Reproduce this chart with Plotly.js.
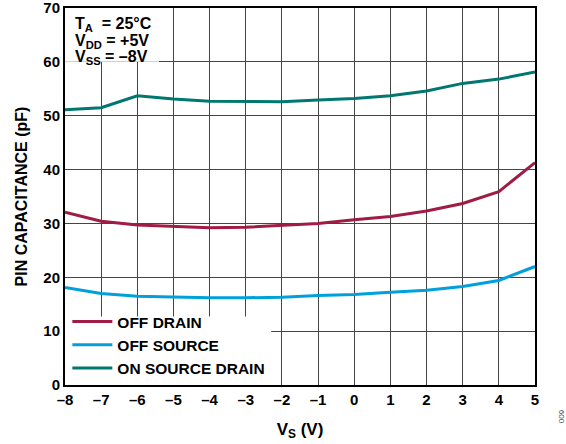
<!DOCTYPE html>
<html>
<head>
<meta charset="utf-8">
<script src="https://cdn.plot.ly/plotly-3.0.1.min.js"></script>
<style>html,body{margin:0;padding:0;background:#fff;}#chart{width:566px;height:444px;}</style>
</head>
<body>
<div id="chart"></div>
<script>
const vs = [-8, -7, -6, -5, -4, -3, -2, -1, 0, 1, 2, 3, 4, 5];
const offDrain = [32.1, 30.4, 29.7, 29.4, 29.2, 29.3, 29.6, 30.0, 30.7, 31.3, 32.3, 33.7, 35.9, 41.3];
const offSource = [18.1, 17.0, 16.5, 16.3, 16.2, 16.2, 16.3, 16.6, 16.8, 17.2, 17.6, 18.3, 19.4, 22.0];
const onSourceDrain = [51.1, 51.5, 53.7, 53.1, 52.7, 52.6, 52.6, 52.9, 53.2, 53.7, 54.6, 56.0, 56.8, 58.1];
const seriesNames = ["OFF DRAIN", "OFF SOURCE", "ON SOURCE DRAIN"];
const xTicks = [-8, -7, -6, -5, -4, -3, -2, -1, 0, 1, 2, 3, 4, 5];
const xTickLabels = ["–8", "–7", "–6", "–5", "–4", "–3", "–2", "–1", "0", "1", "2", "3", "4", "5"];
const yTicks = [0, 10, 20, 30, 40, 50, 60, 70];
const conditions = ["T<sub>A</sub>  = 25°C", "V<sub>DD</sub> = +5V", "V<sub>SS</sub> = –8V"];

const font = "Liberation Sans, Arial, sans-serif";
const colors = ["#A01C45", "#00A0DC", "#00776F"];
const series = [offDrain, offSource, onSourceDrain];

const traces = series.map((s, i) => ({
  x: vs, y: s, type: "scatter", mode: "lines", name: seriesNames[i],
  line: {color: colors[i], width: 3}
}));

const condAnn = conditions.map((t, i) => ({
  xref: "paper", yref: "paper", x: 0.016, y: 0.955 - i * 0.0426, xanchor: "left", yanchor: "middle", align: "left",
  showarrow: false, text: t,
  font: {family: font, size: 16, weight: "bold", color: "#000"}
}));

const layout = {
  width: 566, height: 444,
  margin: {l: 65, r: 31, t: 8, b: 59},
  paper_bgcolor: "#fff", plot_bgcolor: "#fff",
  font: {family: font, size: 15, color: "#000"},
  showlegend: true,
  legend: {
    x: 0.005, y: 0.0, xanchor: "left", yanchor: "bottom",
    bgcolor: "rgba(0,0,0,0)", borderwidth: 0,
    font: {family: font, size: 15.5, color: "#000", weight: "bold"},
    itemwidth: 40, tracegroupgap: 0
  },
  xaxis: {
    range: [-8, 5], tickvals: xTicks, ticktext: xTickLabels,
    showgrid: true, gridcolor: "#444", gridwidth: 1,
    zeroline: false, showline: true, linecolor: "#000", linewidth: 2, mirror: true,
    ticks: "", tickfont: {family: font, size: 15, weight: "bold"},
    title: {text: "V<sub>S</sub> (V)", font: {family: font, size: 17, weight: "bold"}, standoff: 16}
  },
  yaxis: {
    range: [0, 70.001], tickvals: yTicks, ticklabeloverflow: "allow",
    showgrid: true, gridcolor: "#444", gridwidth: 1,
    zeroline: false, showline: true, linecolor: "#000", linewidth: 2, mirror: true,
    ticks: "", tickfont: {family: font, size: 15, weight: "bold"},
    title: {text: "PIN CAPACITANCE (pF)", font: {family: font, size: 16, weight: "bold"}, standoff: 12}
  },
  shapes: [
    {type: "rect", xref: "x", yref: "y", x0: -8, x1: -5.4, y0: 60, y1: 70, fillcolor: "#fff", line: {width: 0}, layer: "between"},
    {type: "rect", xref: "x", yref: "y", x0: -8, x1: -2.3, y0: 0, y1: 12.7, fillcolor: "#fff", line: {width: 0}, layer: "between"}
  ],
  annotations: condAnn.concat([
    {xref: "paper", yref: "paper", x: 1.058, y: -0.085, xanchor: "center", yanchor: "middle",
     showarrow: false, textangle: 90, text: "600",
     font: {family: font, size: 8, color: "#444"}}
  ])
};

Plotly.newPlot("chart", traces, layout, {displayModeBar: false, staticPlot: true});
</script>
</body>
</html>
